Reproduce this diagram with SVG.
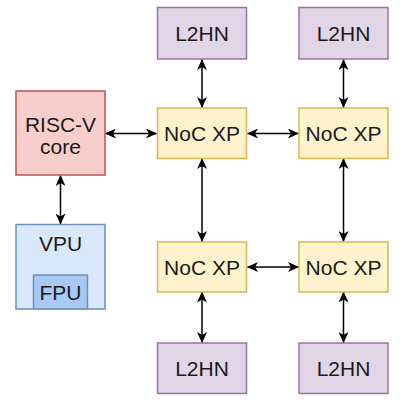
<svg xmlns="http://www.w3.org/2000/svg" width="407" height="405" viewBox="0 0 407 405">
<style>
text{font-family:"Liberation Sans",Arial,sans-serif;font-size:21px;fill:#1a1a1a;text-anchor:middle}
.l2{fill:#e1d5e7;stroke:#9673a6;stroke-width:1.5}
.noc{fill:#fff2cc;stroke:#d6b656;stroke-width:1.5}
.cpu{fill:#f8cecc;stroke:#b85450;stroke-width:1.5}
.vpu{fill:#dae8fc;stroke:#6c8ebf;stroke-width:1.5}
.fpu{fill:#a9c8f2;stroke:#6c8ebf;stroke-width:1.5}
.c{stroke:#000;stroke-width:1.5;fill:none;marker-start:url(#a);marker-end:url(#a)}
</style>
<defs>
<marker id="a" viewBox="0 0 11 10" refX="10.5" refY="5" markerWidth="11" markerHeight="10" markerUnits="userSpaceOnUse" orient="auto-start-reverse">
<path d="M0,0 L11,5 L0,10 L3,5 Z" fill="#000"/>
</marker>
</defs>
<g id="connectors">
<path class="c" d="M105.5,133.5 H156.5"/>
<path class="c" d="M247.5,133.5 H298.5"/>
<path class="c" d="M247.5,267 H298.5"/>
<path class="c" d="M202,59.5 V107.5"/>
<path class="c" d="M343.5,59.5 V107.5"/>
<path class="c" d="M202,158.5 V241.5"/>
<path class="c" d="M343.5,158.5 V241.5"/>
<path class="c" d="M202,292 V342.5"/>
<path class="c" d="M343.5,292 V342.5"/>
<path class="c" d="M60.5,175.5 V224"/>
</g>
<g id="l2hn-tl"><rect class="l2" x="157.5" y="7.5" width="89" height="51.5"/><text x="202" y="40.5">L2HN</text></g>
<g id="l2hn-tr"><rect class="l2" x="299" y="7.5" width="89" height="51.5"/><text x="343.5" y="40.5">L2HN</text></g>
<g id="noc-tl"><rect class="noc" x="157.5" y="108" width="89" height="50.5"/><text x="202" y="141">NoC XP</text></g>
<g id="noc-tr"><rect class="noc" x="299" y="108" width="89" height="50.5"/><text x="343.5" y="141">NoC XP</text></g>
<g id="noc-bl"><rect class="noc" x="157.5" y="242" width="89" height="50"/><text x="202" y="274.5">NoC XP</text></g>
<g id="noc-br"><rect class="noc" x="299" y="242" width="89" height="50"/><text x="343.5" y="274.5">NoC XP</text></g>
<g id="l2hn-bl"><rect class="l2" x="157.5" y="343" width="89" height="50.5"/><text x="202" y="375.5">L2HN</text></g>
<g id="l2hn-br"><rect class="l2" x="299" y="343" width="89" height="50.5"/><text x="343.5" y="375.5">L2HN</text></g>
<g id="riscv"><rect class="cpu" x="16" y="91" width="89" height="84"/><text x="60.5" y="131.5">RISC-V</text><text x="60.5" y="153.5">core</text></g>
<g id="vpu"><rect class="vpu" x="16" y="224.5" width="89" height="84.5"/><text x="60.5" y="250.5">VPU</text>
<g id="fpu"><rect class="fpu" x="33.5" y="275" width="54" height="34"/><text x="60.5" y="299.5">FPU</text></g></g>
</svg>
